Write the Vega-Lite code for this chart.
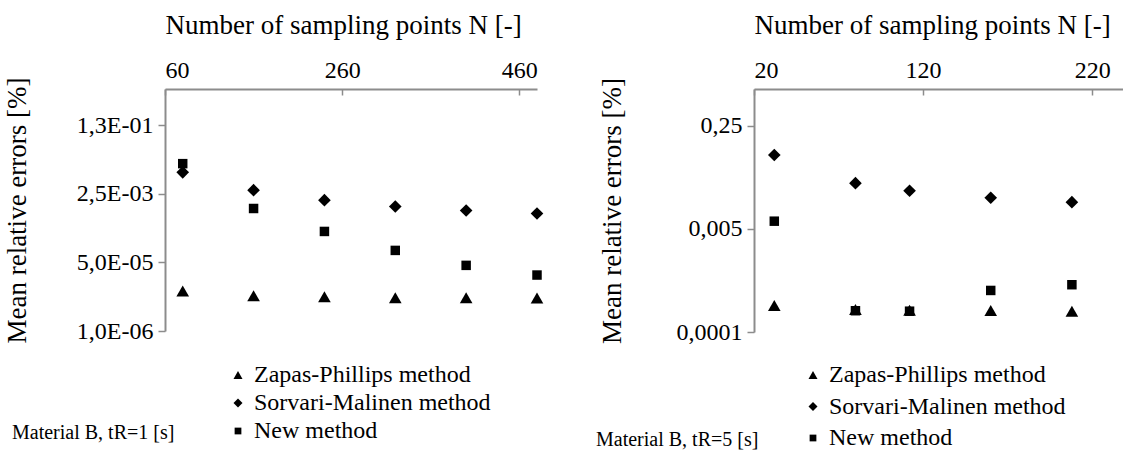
{
  "$schema": "https://vega.github.io/schema/vega-lite/v6.json",
  "background": "white",
  "padding": {"left": 3, "top": 11, "right": 0, "bottom": 0},
  "config": {
    "font": "Liberation Serif, Times New Roman, serif",
    "view": {"stroke": null},
    "style": {"guide-label": {"font": "Liberation Serif, Times New Roman, serif"}, "guide-title": {"font": "Liberation Serif, Times New Roman, serif"}},
    "axis": {
      "grid": false,
      "domainColor": "#8c8c8c",
      "domainWidth": 2,
      "tickColor": "#8c8c8c",
      "tickWidth": 1.5,
      "labelColor": "black",
      "titleColor": "black",
      "labelFont": "Liberation Serif, Times New Roman, serif",
      "titleFont": "Liberation Serif, Times New Roman, serif",
      "labelFontSize": 24,
      "titleFontSize": 27,
      "titleFontWeight": "normal"
    },
    "legend": {
      "labelFont": "Liberation Serif, Times New Roman, serif",
      "titleFont": "Liberation Serif, Times New Roman, serif",
      "labelFontSize": 24,
      "labelColor": "black",
      "labelLimit": 0,
      "titleLimit": 0,
      "titleColor": "black",
      "titleFontSize": 20,
      "titleFontWeight": "normal",
      "symbolFillColor": "black",
      "symbolStrokeColor": "black",
      "symbolSize": 81,
      "symbolStrokeWidth": 0,
      "labelOffset": 4
    }
  },
  "datasets": {
    "leftData": [
      {"method": "Zapas-Phillips method", "N": 80, "error": 0.0000098},
      {"method": "Zapas-Phillips method", "N": 160, "error": 0.0000075},
      {"method": "Zapas-Phillips method", "N": 240, "error": 0.0000071},
      {"method": "Zapas-Phillips method", "N": 320, "error": 0.0000067},
      {"method": "Zapas-Phillips method", "N": 400, "error": 0.0000067},
      {"method": "Zapas-Phillips method", "N": 480, "error": 0.0000066},
      {"method": "Sorvari-Malinen method", "N": 80, "error": 0.0086},
      {"method": "Sorvari-Malinen method", "N": 160, "error": 0.0031},
      {"method": "Sorvari-Malinen method", "N": 240, "error": 0.00175},
      {"method": "Sorvari-Malinen method", "N": 320, "error": 0.00122},
      {"method": "Sorvari-Malinen method", "N": 400, "error": 0.00097},
      {"method": "Sorvari-Malinen method", "N": 480, "error": 0.00082},
      {"method": "New method", "N": 80, "error": 0.0141},
      {"method": "New method", "N": 160, "error": 0.00109},
      {"method": "New method", "N": 240, "error": 0.000294},
      {"method": "New method", "N": 320, "error": 0.0000996},
      {"method": "New method", "N": 400, "error": 0.0000424},
      {"method": "New method", "N": 480, "error": 0.0000244}
    ],
    "rightData": [
      {"method": "Zapas-Phillips method", "N": 32, "error": 0.000273},
      {"method": "Zapas-Phillips method", "N": 80, "error": 0.000234},
      {"method": "Zapas-Phillips method", "N": 112, "error": 0.000228},
      {"method": "Zapas-Phillips method", "N": 160, "error": 0.000226},
      {"method": "Zapas-Phillips method", "N": 208, "error": 0.00022},
      {"method": "Sorvari-Malinen method", "N": 32, "error": 0.0821},
      {"method": "Sorvari-Malinen method", "N": 80, "error": 0.0282},
      {"method": "Sorvari-Malinen method", "N": 112, "error": 0.0211},
      {"method": "Sorvari-Malinen method", "N": 160, "error": 0.0162},
      {"method": "Sorvari-Malinen method", "N": 208, "error": 0.0137},
      {"method": "New method", "N": 32, "error": 0.00667},
      {"method": "New method", "N": 80, "error": 0.000224},
      {"method": "New method", "N": 112, "error": 0.00022},
      {"method": "New method", "N": 160, "error": 0.000483},
      {"method": "New method", "N": 208, "error": 0.0006}
    ]
  },
  "spacing": 52,
  "resolve": {"scale": {"shape": "independent"}, "legend": {"shape": "independent"}},
  "hconcat": [
    {
      "width": 372,
      "height": 242,
      "data": {"name": "leftData"},
      "mark": {"type": "point", "filled": true, "color": "black", "opacity": 1, "size": 160},
      "encoding": {
        "x": {
          "field": "N", "type": "quantitative",
          "scale": {"domain": [60, 480], "nice": false, "zero": false},
          "axis": {"orient": "top", "values": [60, 260, 460], "title": "Number of sampling points  N [-]", "titleAnchor": "start", "tickSize": -6, "labelPadding": 13, "titlePadding": 19}
        },
        "y": {
          "field": "error", "type": "quantitative",
          "scale": {"type": "log", "domain": [0.000001, 1], "nice": false},
          "axis": {
            "values": [0.000001, 0.00005, 0.0025, 0.125],
            "labelExpr": "datum.value < 0.000002 ? '1,0E-06' : datum.value < 0.0001 ? '5,0E-05' : datum.value < 0.01 ? '2,5E-03' : '1,3E-01'",
            "title": "Mean relative errors [%]",
            "tickSize": 7, "labelPadding": 5, "titlePadding": 45
          }
        },
        "shape": {
          "field": "method", "type": "nominal",
          "scale": {"domain": ["Zapas-Phillips method", "Sorvari-Malinen method", "New method"], "range": ["triangle-up", "diamond", "M-0.75,-0.75L0.75,-0.75L0.75,0.75L-0.75,0.75Z"]},
          "legend": {
            "orient": "none", "legendX": -153, "legendY": 274, "direction": "vertical",
            "labelLimit": 0,
            "title": "Material B, tR=1 [s]", "titleOrient": "left", "titleAnchor": "end", "titleBaseline": "bottom", "titlePadding": 51, "rowPadding": 4
          }
        }
      }
    },
    {
      "width": 372,
      "height": 243,
      "data": {"name": "rightData"},
      "mark": {"type": "point", "filled": true, "color": "black", "opacity": 1, "size": 160},
      "encoding": {
        "x": {
          "field": "N", "type": "quantitative",
          "scale": {"domain": [20, 240], "nice": false, "zero": false},
          "axis": {"orient": "top", "values": [20, 120, 220], "title": "Number of sampling points  N [-]", "titleAnchor": "start", "tickSize": -6, "labelPadding": 13, "titlePadding": 19}
        },
        "y": {
          "field": "error", "type": "quantitative",
          "scale": {"type": "log", "domain": [0.0001, 1], "nice": false},
          "axis": {
            "values": [0.0001, 0.005, 0.25],
            "labelExpr": "datum.value < 0.0002 ? '0,0001' : datum.value < 0.01 ? '0,005' : '0,25'",
            "title": "Mean relative errors [%]",
            "tickSize": 7, "labelPadding": 5, "titlePadding": 50
          }
        },
        "shape": {
          "field": "method", "type": "nominal",
          "scale": {"domain": ["Zapas-Phillips method", "Sorvari-Malinen method", "New method"], "range": ["triangle-up", "diamond", "M-0.75,-0.75L0.75,-0.75L0.75,0.75L-0.75,0.75Z"]},
          "legend": {
            "orient": "none", "legendX": -158, "legendY": 274, "direction": "vertical",
            "labelLimit": 0,
            "title": "Material B, tR=5 [s]", "titleOrient": "left", "titleAnchor": "end", "titleBaseline": "bottom", "titlePadding": 42, "rowPadding": 7.5
          }
        }
      }
    }
  ]
}
